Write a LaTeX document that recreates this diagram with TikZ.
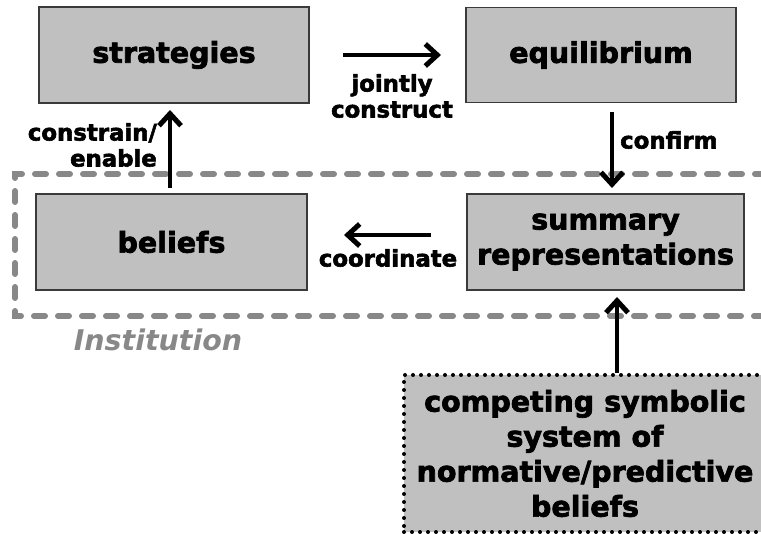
\documentclass[tikz,border=0pt]{standalone}
\usepackage{fontspec}
\setmainfont{DejaVu Sans}[BoldFeatures={FakeBold=2.5}]
\usetikzlibrary{arrows.meta}
\definecolor{boxfill}{HTML}{C0C0C0}
\definecolor{boxline}{HTML}{3A3A3A}
\definecolor{instgray}{HTML}{888888}
\begin{document}
\begin{tikzpicture}[x=1pt,y=-1pt,
  box/.style={draw=boxline, line width=1.3pt, fill=boxfill, font=\fontsize{28.5}{35}\selectfont\bfseries, align=center, inner sep=0pt},
  lbl/.style={font=\fontsize{22.8}{26}\selectfont\bfseries, inner sep=0pt},
  arr/.style={line width=4pt, -{Straight Barb[length=12pt,width=22pt,line width=5pt]}},
]
\useasboundingbox (0,0) rectangle (761,534);
% institution frame
\draw[instgray, line width=6pt, line cap=round, dash pattern=on 11pt off 13pt]
  (790,174) -- (15,174) -- (15,316) -- (790,316);
\node[font=\fontsize{28.5}{34}\selectfont\bfseries\itshape, text=instgray, inner sep=0pt] (inst) at (158,340) {Institution};
% boxes
\node[box, minimum width=270pt, minimum height=96pt] (strat) at (174,55) {strategies};
\node[box, minimum width=270pt, minimum height=95pt] (equil) at (601,55) {equilibrium};
\node[box, minimum width=271pt, minimum height=96pt] (beliefs) at (171.5,242) {beliefs};
\node[box, minimum width=277pt, minimum height=96pt] (summ) at (605.5,242) {summary\\representations};
\node[box, draw=black, line width=4pt, dash pattern=on 0pt off 8pt, line cap=round,
      minimum width=362pt, minimum height=157pt] (comp) at (585,453.5)
      {competing symbolic\\system of\\normative/predictive\\beliefs};
% connector end points
\coordinate (ceA) at (170,188);
\coordinate (ceB) at (170,110);
\coordinate (jcA) at (343,55);
\coordinate (jcB) at (441,55);
\coordinate (cfA) at (612,112);
\coordinate (cfB) at (612,188);
\coordinate (coA) at (431,235);
\coordinate (coB) at (344,235);
\coordinate (cpA) at (617,373);
\coordinate (cpB) at (617,297);
% arrows
\draw[arr] (ceA) -- (ceB);
\draw[arr] (jcA) -- (jcB);
\draw[arr] (cfA) -- (cfB);
\draw[arr] (coA) -- (coB);
\draw[arr] (cpA) -- (cpB);
% labels
\node[lbl, align=right, anchor=east] (lce) at (157,145) {constrain/\\enable};
\node[lbl, align=center] (ljc) at (392,96) {jointly\\construct};
\node[lbl, anchor=west] (lcf) at (620,140) {confirm};
\node[lbl] (lco) at (388,258) {coordinate};
\end{tikzpicture}
\end{document}
